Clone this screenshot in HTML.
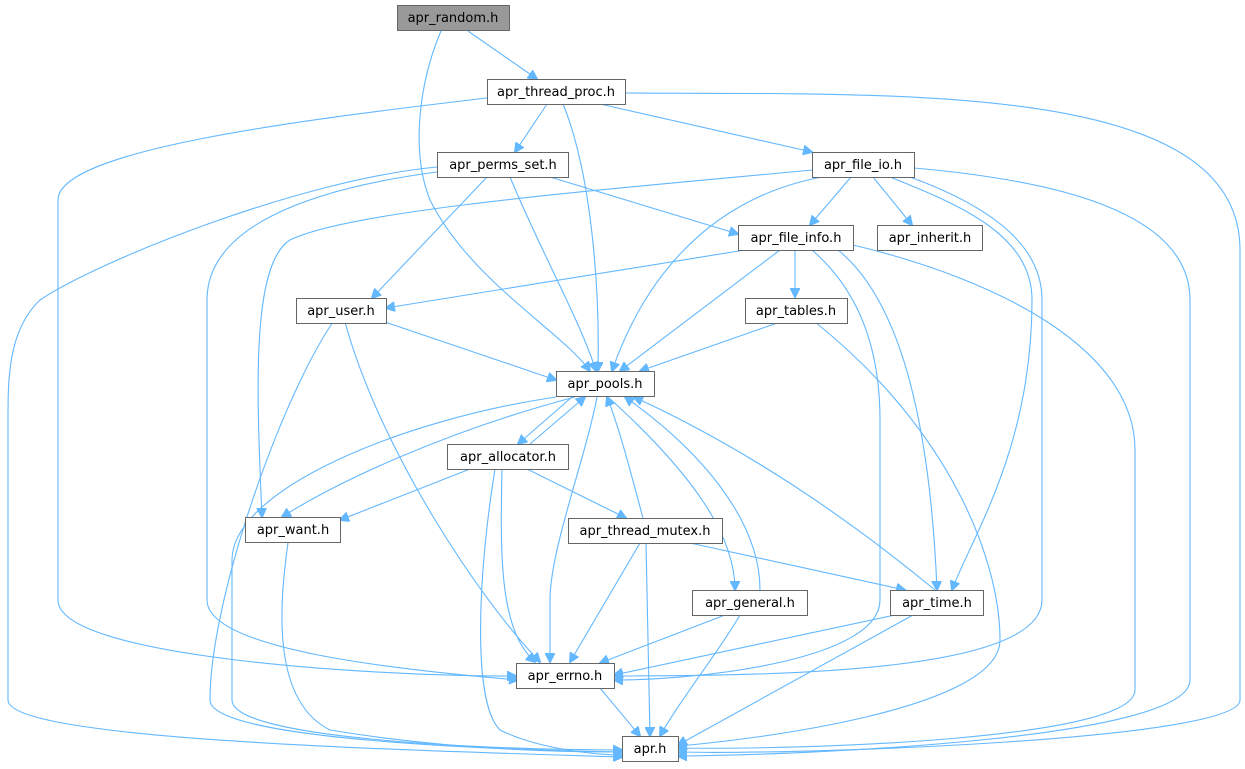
<!DOCTYPE html>
<html><head><meta charset="utf-8"><style>
html,body{margin:0;padding:0;background:#fff;}
svg{display:block;}
text{font-family:"DejaVu Sans","Liberation Sans",sans-serif;font-size:13px;fill:#000;text-anchor:middle;}
.e{fill:none;stroke:#63b8ff;stroke-width:1.1;marker-end:url(#a);}
.n{fill:#fff;stroke:#666;stroke-width:1;}
</style></head><body>
<svg width="1245" height="769" viewBox="0 0 1245 769" xmlns="http://www.w3.org/2000/svg">
<defs><marker id="a" viewBox="0 0 10 10" refX="9" refY="5" markerWidth="10" markerHeight="10" markerUnits="userSpaceOnUse" orient="auto"><path d="M0,0 L10,5 L0,10 z" fill="#63b8ff" stroke="#63b8ff"/></marker></defs>
<g>
<path class="e" d="M468,31 L537,79"/>
<path class="e" d="M441,31 C420,80 410,150 430,200 C470,280 560,330 590,371"/>
<path class="e" d="M547,104 L515,152"/>
<path class="e" d="M563,104 C590,170 600,280 598,371"/>
<path class="e" d="M600,104 L812,152"/>
<path class="e" d="M625,93 C900,95 1240,80 1240,250 L1240,700 C1240,740 800,755 678,752"/>
<path class="e" d="M487,98 C300,120 58,150 58,200 L58,600 C58,660 400,677 516,676"/>
<path class="e" d="M550,177 L738,234"/>
<path class="e" d="M487,177 L372,298"/>
<path class="e" d="M510,177 C540,250 580,320 596,371"/>
<path class="e" d="M437,167 C300,180 100,260 40,300 C8,330 8,380 8,420 L8,700 C8,740 400,750 622,757"/>
<path class="e" d="M437,172 C300,190 207,230 207,300 L207,600 C207,650 400,670 518,680"/>
<path class="e" d="M851,177 L810,225"/>
<path class="e" d="M873,177 L912,225"/>
<path class="e" d="M822,177 C700,200 640,290 612,371"/>
<path class="e" d="M812,170 C600,190 350,210 290,240 C250,265 257,400 262,517"/>
<path class="e" d="M890,177 C960,205 1032,235 1032,300 C1032,450 970,540 952,590"/>
<path class="e" d="M910,177 C1000,210 1042,250 1042,300 L1042,600 C1042,670 800,676 614,676"/>
<path class="e" d="M914,168 C1050,180 1190,210 1190,300 L1190,680 C1190,740 800,755 678,756"/>
<path class="e" d="M745,250 L386,308"/>
<path class="e" d="M795,250 L795,297"/>
<path class="e" d="M780,250 L620,371"/>
<path class="e" d="M838,250 C900,300 930,420 937,590"/>
<path class="e" d="M812,250 C870,300 880,370 880,420 L880,600 C880,660 700,680 614,680"/>
<path class="e" d="M853,245 C1000,280 1135,350 1135,450 L1135,690 C1135,740 800,750 678,748"/>
<path class="e" d="M780,322 L640,371"/>
<path class="e" d="M815,322 C950,430 1000,560 1000,640 C1000,710 750,740 678,746"/>
<path class="e" d="M385,322 L556,380"/>
<path class="e" d="M345,322 C380,450 480,600 540,662"/>
<path class="e" d="M333,322 C280,400 210,600 210,700 C210,740 500,750 622,752"/>
<path class="e" d="M572,397 L518,444"/>
<path class="e" d="M530,444 L585,397"/>
<path class="e" d="M575,397 C450,430 340,480 282,517"/>
<path class="e" d="M597,397 C585,460 550,550 550,600 L550,662"/>
<path class="e" d="M608,397 C700,480 735,540 735,590"/>
<path class="e" d="M556,397 C400,420 232,490 232,560 L232,700 C232,740 500,750 622,750"/>
<path class="e" d="M643,518 C630,470 620,430 607,397"/>
<path class="e" d="M760,590 C760,520 700,450 625,397"/>
<path class="e" d="M935,590 C850,520 750,450 634,397"/>
<path class="e" d="M470,469 L340,520"/>
<path class="e" d="M527,469 L626,518"/>
<path class="e" d="M502,469 C500,560 500,630 535,662"/>
<path class="e" d="M495,469 C480,560 470,700 500,730 C540,750 600,755 622,755"/>
<path class="e" d="M288,543 C280,600 270,700 330,730 C450,750 560,752 622,752"/>
<path class="e" d="M690,543 L905,590"/>
<path class="e" d="M640,543 L570,662"/>
<path class="e" d="M646,543 L650,736"/>
<path class="e" d="M725,615 L600,663"/>
<path class="e" d="M740,615 C720,650 680,700 660,736"/>
<path class="e" d="M895,615 L614,675"/>
<path class="e" d="M913,615 L678,745"/>
<path class="e" d="M600,688 L640,736"/>
</g>
<g>
<rect x="397.5" y="5.5" width="112" height="25" fill="#999" stroke="#666"/><text x="453" y="22">apr_random.h</text>
<rect class="n" x="487.5" y="79.5" width="138" height="25"/><text x="556" y="96">apr_thread_proc.h</text>
<rect class="n" x="437.5" y="152.5" width="131" height="25"/><text x="503" y="169">apr_perms_set.h</text>
<rect class="n" x="812.5" y="152.5" width="102" height="25"/><text x="863" y="169">apr_file_io.h</text>
<rect class="n" x="738.5" y="225.5" width="115" height="25"/><text x="796" y="242">apr_file_info.h</text>
<rect class="n" x="877.5" y="225.5" width="105" height="25"/><text x="930" y="242">apr_inherit.h</text>
<rect class="n" x="296.5" y="298.5" width="90" height="25"/><text x="341" y="315">apr_user.h</text>
<rect class="n" x="745.5" y="298.5" width="102" height="25"/><text x="796" y="315">apr_tables.h</text>
<rect class="n" x="556.5" y="371.5" width="98" height="25"/><text x="605" y="388">apr_pools.h</text>
<rect class="n" x="447.5" y="444.5" width="121" height="25"/><text x="508" y="461">apr_allocator.h</text>
<rect class="n" x="245.5" y="517.5" width="95" height="25"/><text x="293" y="534">apr_want.h</text>
<rect class="n" x="568.5" y="518.5" width="154" height="25"/><text x="645" y="535">apr_thread_mutex.h</text>
<rect class="n" x="692.5" y="590.5" width="115" height="25"/><text x="750" y="607">apr_general.h</text>
<rect class="n" x="890.5" y="590.5" width="93" height="25"/><text x="937" y="607">apr_time.h</text>
<rect class="n" x="516.5" y="663.5" width="98" height="25"/><text x="565" y="680">apr_errno.h</text>
<rect class="n" x="622.5" y="736.5" width="56" height="25"/><text x="650" y="753">apr.h</text>
</g>
</svg>
</body></html>
